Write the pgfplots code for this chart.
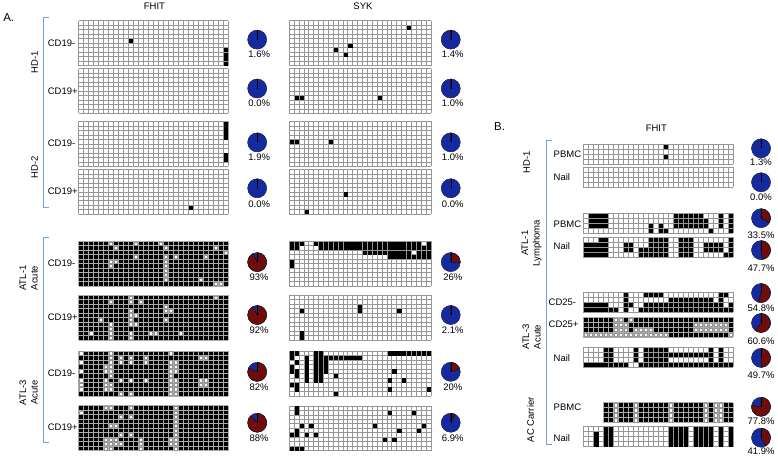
\documentclass[border=0pt]{standalone}
\usepackage{pgfplots}
\pgfplotsset{compat=1.18}
\usepackage{fontspec}
\setmainfont{Liberation Sans}

\definecolor{pieblue}{RGB}{22,42,160}
\definecolor{piered}{RGB}{112,12,12}
\definecolor{brk}{RGB}{105,165,235}
\definecolor{gridgray}{RGB}{150,150,150}

% one methylation grid = one small axis, placed in pixel units of the 778x458 frame
\pgfplotsset{
  mgrid/.style n args={6}{% left, top, ncols, nrows, width, height
    at={(#1pt,{(458-#2)*1pt})}, anchor=north west,
    scale only axis, width=#5pt, height=#6pt,
    xmin=0, xmax=#3, ymin=0, ymax=#4, y dir=reverse,
    xtick={0,...,#3}, ytick={0,...,#4},
    xticklabels={}, yticklabels={}, major tick length=0pt,
    axis line style={draw=none},
    grid=major, major grid style={draw=gridgray, line width=0.5pt},
  },
  mdark/.style={axis background/.style={fill=black},
    major grid style={draw=gridgray!80, line width=0.6pt}},
  mon/.style={only marks, mark=square*, mark size=#1, black,
    mark options={line width=0.2pt},
    x filter/.expression={x+0.5}, y filter/.expression={y+0.5}},
  mon/.default=1.6pt,
  moff/.style={only marks, mark=square*, mark size=#1,
    mark options={fill=white, draw=gridgray, line width=0.3pt},
    x filter/.expression={x+0.5}, y filter/.expression={y+0.5}},
  moff/.default=1.6pt,
}

\begin{document}
\begin{tikzpicture}[font=\fontsize{9.5}{11.5}\selectfont]

% ---------- frame: labels, brackets, pies ----------
\begin{axis}[name=frame, at={(0pt,0pt)}, anchor=south west, scale only axis,
  width=778pt, height=458pt, xmin=0, xmax=778, ymin=0, ymax=458,
  y dir=reverse, hide axis, clip=false]
\path (axis cs:0,0) rectangle (axis cs:778,458);

\node[font=\fontsize{11.5}{13}\selectfont] at (axis cs:7,17) {A.};
\node[font=\fontsize{11.5}{13}\selectfont] at (axis cs:499,126) {B.};
\node at (axis cs:153,6) {FHIT};
\node at (axis cs:362,6) {SYK};
\node at (axis cs:656,128) {FHIT};

% brackets
\draw[brk, line width=0.9pt] (axis cs:47,17) -- (axis cs:42,17) -- (axis cs:42,207) -- (axis cs:47,207);
\draw[brk, line width=0.9pt] (axis cs:47,237) -- (axis cs:42,237) -- (axis cs:42,443) -- (axis cs:47,443);
\draw[brk, line width=0.9pt] (axis cs:551,140) -- (axis cs:546,140) -- (axis cs:546,445) -- (axis cs:551,445);

% group labels
\node[rotate=90] at (axis cs:33,62) {HD-1};
\node[rotate=90] at (axis cs:33,167) {HD-2};
\node[rotate=90, align=center] at (axis cs:27,278) {ATL-1\\Acute};
\node[rotate=90, align=center] at (axis cs:27,393) {ATL-3\\Acute};
\node[rotate=90] at (axis cs:526,162) {HD-1};
\node[rotate=90, align=center] at (axis cs:531,243) {ATL-1\\Lymphoma};
\node[rotate=90, align=center] at (axis cs:531,337) {ATL-3\\Acute};
\node[rotate=90] at (axis cs:530,420) {AC Carrier};

% row labels
\begin{scope}[every node/.style={anchor=west, inner sep=0pt}]
\node at (axis cs:46,43) {CD19-};
\node at (axis cs:46,91) {CD19+};
\node at (axis cs:46,143) {CD19-};
\node at (axis cs:46,191) {CD19+};
\node at (axis cs:46,263) {CD19-};
\node at (axis cs:46,317) {CD19+};
\node at (axis cs:46,373) {CD19-};
\node at (axis cs:46,428) {CD19+};
\node at (axis cs:553,154) {PBMC};
\node at (axis cs:553,177) {Nail};
\node at (axis cs:553,224) {PBMC};
\node at (axis cs:553,246) {Nail};
\node at (axis cs:548,302) {CD25-};
\node at (axis cs:548,324) {CD25+};
\node at (axis cs:553,358) {Nail};
\node at (axis cs:553,407) {PBMC};
\node at (axis cs:553,438) {Nail};
\end{scope}

% percentage labels
\node at (axis cs:258,54) {1.6\%};
\node at (axis cs:258,103) {0.0\%};
\node at (axis cs:258,157) {1.9\%};
\node at (axis cs:258,204) {0.0\%};
\node at (axis cs:258,277) {93\%};
\node at (axis cs:258,330) {92\%};
\node at (axis cs:258,387) {82\%};
\node at (axis cs:258,439) {88\%};
\node at (axis cs:452,54) {1.4\%};
\node at (axis cs:452,103) {1.0\%};
\node at (axis cs:452,157) {1.0\%};
\node at (axis cs:452,204) {0.0\%};
\node at (axis cs:452,277) {26\%};
\node at (axis cs:452,330) {2.1\%};
\node at (axis cs:452,387) {20\%};
\node at (axis cs:452,439) {6.9\%};
\node at (axis cs:761,162) {1.3\%};
\node at (axis cs:761,197) {0.0\%};
\node at (axis cs:761,235) {33.5\%};
\node at (axis cs:761,268) {47.7\%};
\node at (axis cs:761,308) {54.8\%};
\node at (axis cs:761,341) {60.6\%};
\node at (axis cs:761,375) {49.7\%};
\node at (axis cs:761,421) {77.8\%};
\node at (axis cs:761,452) {41.9\%};

% pies: p = methylated percentage (red, clockwise from 12 o'clock)
\addplot[scatter, only marks, mark=*, mark size=0.1pt,
  visualization depends on={\thisrow{p} \as \pct},
  scatter/@pre marker code/.code={%
    \fill[pieblue] (0pt,0pt) circle[radius=9.5pt];
    \filldraw[fill=piered, draw=black, line width=0.3pt] (0pt,0pt) -- (0pt,9.5pt)
      arc[start angle=90, delta angle={-3.6*\pct}, radius=9.5pt] -- cycle;
    \draw[black, line width=0.5pt] (0pt,0pt) -- (0pt,9.5pt);
    \draw[black!85, line width=0.3pt] (0pt,0pt) circle[radius=9.5pt];
    \scope[opacity=0]},
  scatter/@post marker code/.code={\endscope},
] table {
x y p
256 39 1.6
256 88 0
256 142 1.9
256 188 0
256 262 93
256 315 92
256 372 82
256 423 88
450 39 1.4
450 88 1.0
450 142 1.0
450 188 0
450 262 26
450 315 2.1
450 372 20
450 423 6.9
761 148 1.3
761 182 0
761 218 33.5
761 250 47.7
761 293 54.8
761 323 60.6
761 358 49.7
761 407 77.8
761 438 41.9
};
\end{axis}

% ---------- panel A, FHIT ----------
\begin{axis}[mgrid={77}{20}{30}{10}{150}{45}]
\addplot[mon] coordinates {(10,4)(29,6)(29,7)(29,8)(29,9)};
\end{axis}
\begin{axis}[mgrid={77}{68}{30}{10}{150}{45}]
\end{axis}
\begin{axis}[mgrid={77}{121}{30}{10}{150}{45}]
\addplot[mon] coordinates {(29,0)(29,1)(29,2)(29,3)(29,7)(29,8)};
\end{axis}
\begin{axis}[mgrid={77}{169}{30}{10}{150}{45}]
\addplot[mon] coordinates {(22,8)};
\end{axis}
\begin{axis}[mgrid={77}{241}{30}{10}{150}{45}, mdark]
\addplot[moff] coordinates {(6,0)(11,0)(16,0)(7,1)(17,1)(27,1)(29,2)(11,3)(17,3)(19,3)(25,3)
 (6,4)(7,4)(17,4)(6,5)(17,5)(17,6)(17,7)(17,8)(24,8)(27,9)(28,9)};
\end{axis}
\begin{axis}[mgrid={77}{295}{30}{10}{150}{45}, mdark]
\addplot[moff] coordinates {(10,0)(27,0)(6,1)(10,1)(12,1)(17,2)(10,3)(17,3)(18,3)(10,4)(11,4)
 (4,5)(10,5)(17,5)(6,6)(10,6)(11,6)(6,7)(2,8)(6,8)(10,8)(14,8)(15,8)(20,8)(6,9)(10,9)};
\end{axis}
\begin{axis}[mgrid={77}{351}{30}{10}{150}{45}, mdark]
\addplot[moff] coordinates {(0,0)(6,0)(18,0)
 (6,1)(8,1)(10,1)(13,1)(24,1)(25,1)
 (0,2)(6,2)(8,2)(10,2)(13,2)(18,2)(19,2)
 (5,3)(6,3)(18,3)(19,3)
 (0,4)(5,4)(6,4)(18,4)(19,4)
 (6,5)(18,5)
 (0,6)(5,6)(8,6)(10,6)(13,6)(18,6)(19,6)(24,6)(25,6)
 (0,7)(5,7)(6,7)(18,7)(19,7)(24,7)(25,7)
 (0,8)(5,8)(6,8)(18,8)(19,8)
 (8,9)(10,9)(18,9)(19,9)};
\end{axis}
\begin{axis}[mgrid={77}{406}{30}{10}{150}{45}, mdark]
\addplot[moff] coordinates {(5,0)(6,0)(10,0)(19,0)
 (0,1)(19,1)
 (8,2)(10,2)(19,2)
 (19,3)
 (6,4)(7,4)(19,4)
 (19,5)
 (8,6)(10,6)(19,6)
 (5,7)(6,7)(7,7)(12,7)(18,7)(19,7)
 (5,8)(6,8)(7,8)(8,8)(12,8)(18,8)(19,8)
 (5,9)(6,9)(12,9)(19,9)};
\end{axis}

% ---------- panel A, SYK ----------
\begin{axis}[mgrid={288}{20}{29}{10}{142}{45}]
\addplot[mon] coordinates {(24,1)(12,5)(9,6)(11,7)};
\end{axis}
\begin{axis}[mgrid={288}{68}{29}{10}{142}{45}]
\addplot[mon] coordinates {(1,6)(2,6)(18,6)};
\end{axis}
\begin{axis}[mgrid={288}{121}{29}{10}{142}{45}]
\addplot[mon] coordinates {(0,4)(1,4)(8,4)};
\end{axis}
\begin{axis}[mgrid={288}{169}{29}{10}{142}{45}]
\addplot[mon] coordinates {(11,5)(3,9)};
\end{axis}
\begin{axis}[mgrid={288}{241}{29}{10}{142}{45}]
\addplot[mon] coordinates {(0,0)(1,0)(2,0)(5,0)(6,0)(7,0)(8,0)(9,0)(10,0)(11,0)(12,0)(13,0)(14,0)(15,0)
 (16,0)(17,0)(18,0)(19,0)(20,0)(21,0)(22,0)(23,0)(24,0)(25,0)(26,0)(28,0)
 (0,1)(1,1)(6,1)(7,1)(8,1)(9,1)(10,1)(11,1)(12,1)(13,1)(14,1)(15,1)(16,1)(17,1)(18,1)(19,1)
 (20,1)(21,1)(22,1)(23,1)(24,1)(25,1)(26,1)(27,1)(28,1)
 (15,2)(16,2)(17,2)(18,2)(19,2)(20,2)(21,2)(22,2)(23,2)(24,2)(26,2)(27,2)(28,2)
 (20,3)(21,3)(22,3)(23,3)(24,3)(25,3)(26,3)(27,3)(28,3)
 (0,4)(0,5)};
\end{axis}
\begin{axis}[mgrid={288}{295}{29}{10}{142}{45}]
\addplot[mon] coordinates {(14,2)(2,3)(14,3)(22,3)(2,8)(2,9)};
\end{axis}
\begin{axis}[mgrid={288}{351}{29}{10}{142}{45}]
\addplot[mon] coordinates {(0,0)(1,0)(5,0)(6,0)(20,0)(21,0)(22,0)(23,0)(24,0)(25,0)(26,0)(27,0)(28,0)
 (0,1)(3,1)(5,1)(6,1)(7,1)(8,1)(9,1)(10,1)(11,1)(12,1)(13,1)(14,1)
 (1,2)(3,2)(5,2)(6,2)(7,2)
 (0,3)(3,3)(5,3)(6,3)(7,3)
 (0,4)(1,4)(3,4)(5,4)(6,4)(7,4)(21,4)
 (1,5)(3,5)(5,5)(6,5)(9,5)
 (3,6)(5,6)(6,6)(20,6)(23,6)
 (0,7)(1,7)
 (1,8)(20,8)(28,8)
 (9,9)};
\end{axis}
\begin{axis}[mgrid={288}{406}{29}{10}{142}{45}]
\addplot[mon] coordinates {(1,0)(1,1)(20,1)(25,1)(2,4)(4,4)(17,4)(27,4)(1,5)(22,5)(26,5)
 (0,6)(1,6)(3,6)(5,6)(19,7)(21,7)(0,9)(1,9)(2,9)};
\end{axis}

% ---------- panel B, FHIT ----------
\begin{axis}[mgrid={583}{144}{30}{4}{150}{20}]
\addplot[mon=1.7pt] coordinates {(16,0)(16,2)};
\end{axis}
\begin{axis}[mgrid={583}{167}{30}{4}{150}{20}]
\end{axis}
\begin{axis}[mgrid={583}{213}{30}{4}{150}{20}]
\addplot[mon=1.7pt] coordinates {(1,0)(2,0)(3,0)(4,0)(18,0)(19,0)(20,0)(21,0)(22,0)(23,0)(27,0)(29,0)
 (1,1)(2,1)(3,1)(4,1)(18,1)(19,1)(20,1)(21,1)(22,1)(23,1)(24,1)(27,1)(29,1)
 (1,2)(2,2)(3,2)(4,2)(13,2)(15,2)(18,2)(19,2)(20,2)(21,2)(22,2)(23,2)(24,2)(27,2)(29,2)
 (13,3)(15,3)(16,3)(25,3)(29,3)};
\end{axis}
\begin{axis}[mgrid={583}{237}{30}{4}{150}{20}]
\addplot[mon=1.7pt] coordinates {(3,0)(4,0)(13,0)(14,0)(15,0)(16,0)(19,0)(20,0)(21,0)(29,0)
 (0,1)(1,1)(2,1)(3,1)(4,1)(8,1)(9,1)(13,1)(14,1)(15,1)(16,1)(19,1)(20,1)(21,1)(24,1)(25,1)(26,1)(27,1)(29,1)
 (0,2)(1,2)(2,2)(3,2)(4,2)(8,2)(9,2)(11,2)(12,2)(13,2)(14,2)(15,2)(16,2)(19,2)(20,2)(21,2)(24,2)(25,2)(26,2)(27,2)(29,2)
 (0,3)(1,3)(2,3)(3,3)(4,3)(11,3)(12,3)(13,3)(14,3)(15,3)(16,3)(19,3)(20,3)(21,3)(28,3)(29,3)};
\end{axis}
\begin{axis}[mgrid={583}{292}{30}{4}{150}{20}]
\addplot[mon=1.7pt] coordinates {(8,0)(12,0)(13,0)(14,0)(15,0)(27,0)(28,0)
 (8,1)(17,1)(18,1)(19,1)(20,1)(21,1)(22,1)(23,1)(24,1)(25,1)(27,1)
 (0,2)(1,2)(2,2)(3,2)(4,2)(8,2)(9,2)(12,2)(13,2)(14,2)(15,2)(16,2)(17,2)(18,2)(19,2)(20,2)(21,2)
 (22,2)(23,2)(24,2)(25,2)(26,2)(27,2)(29,2)
 (0,3)(1,3)(2,3)(3,3)(4,3)(5,3)(6,3)(8,3)(11,3)(12,3)(13,3)(14,3)(15,3)(16,3)(17,3)(18,3)(19,3)
 (20,3)(21,3)(22,3)(23,3)(24,3)(25,3)(26,3)(27,3)(28,3)(29,3)};
\end{axis}
\begin{axis}[mgrid={583}{317}{30}{4}{150}{20}, mdark]
\addplot[moff=1.7pt] coordinates {(6,0)(7,0)(9,0)
 (6,1)(7,1)(8,1)(22,1)(23,1)(24,1)(25,1)(26,1)(27,1)(28,1)
 (6,2)(7,2)(8,2)(10,2)(11,2)(12,2)(13,2)(22,2)(23,2)(24,2)(25,2)(26,2)(27,2)(28,2)
 (0,3)(1,3)(2,3)(3,3)(4,3)(5,3)(6,3)(7,3)(8,3)(9,3)(10,3)(11,3)(12,3)(13,3)(14,3)(15,3)(16,3)(29,3)};
\end{axis}
\begin{axis}[mgrid={583}{347}{30}{4}{150}{20}]
\addplot[mon=1.7pt] coordinates {(4,0)(5,0)(10,0)(12,0)(13,0)(14,0)(15,0)(16,0)(25,0)(27,0)
 (4,1)(5,1)(10,1)(12,1)(13,1)(14,1)(15,1)(16,1)(17,1)(18,1)(19,1)(20,1)(21,1)(22,1)(23,1)(24,1)(25,1)(27,1)
 (4,2)(5,2)(10,2)(12,2)(13,2)(14,2)(15,2)(16,2)(25,2)(27,2)
 (0,3)(1,3)(2,3)(3,3)(4,3)(5,3)(6,3)(7,3)(8,3)(11,3)(12,3)(13,3)(14,3)(15,3)(16,3)(17,3)(18,3)
 (19,3)(20,3)(21,3)(22,3)(23,3)(24,3)(25,3)(26,3)(27,3)(28,3)(29,3)};
\end{axis}
\begin{axis}[mgrid={603}{403}{26}{4}{130}{20}, mdark]
\addplot[moff=1.7pt] coordinates {(2,0)(6,0)(13,0)(20,0)(22,0)(23,0)
 (2,1)(6,1)(13,1)(20,1)(22,1)(23,1)
 (2,2)(6,2)(13,2)(20,2)(22,2)(23,2)
 (2,3)(6,3)(13,3)(20,3)(22,3)(23,3)};
\end{axis}
\begin{axis}[mgrid={583}{427}{30}{4}{150}{20}]
\addplot[mon=1.7pt] coordinates {(4,0)(5,0)(17,0)(18,0)(19,0)(20,0)(22,0)(23,0)(24,0)(25,0)(27,0)(29,0)
 (2,1)(4,1)(5,1)(17,1)(18,1)(19,1)(20,1)(22,1)(23,1)(24,1)(25,1)(27,1)(29,1)
 (2,2)(4,2)(5,2)(17,2)(18,2)(19,2)(20,2)(22,2)(23,2)(24,2)(25,2)(27,2)(29,2)
 (2,3)(4,3)(5,3)(17,3)(18,3)(19,3)(20,3)(22,3)(23,3)(24,3)(25,3)(27,3)(29,3)};
\end{axis}

\end{tikzpicture}
\end{document}
